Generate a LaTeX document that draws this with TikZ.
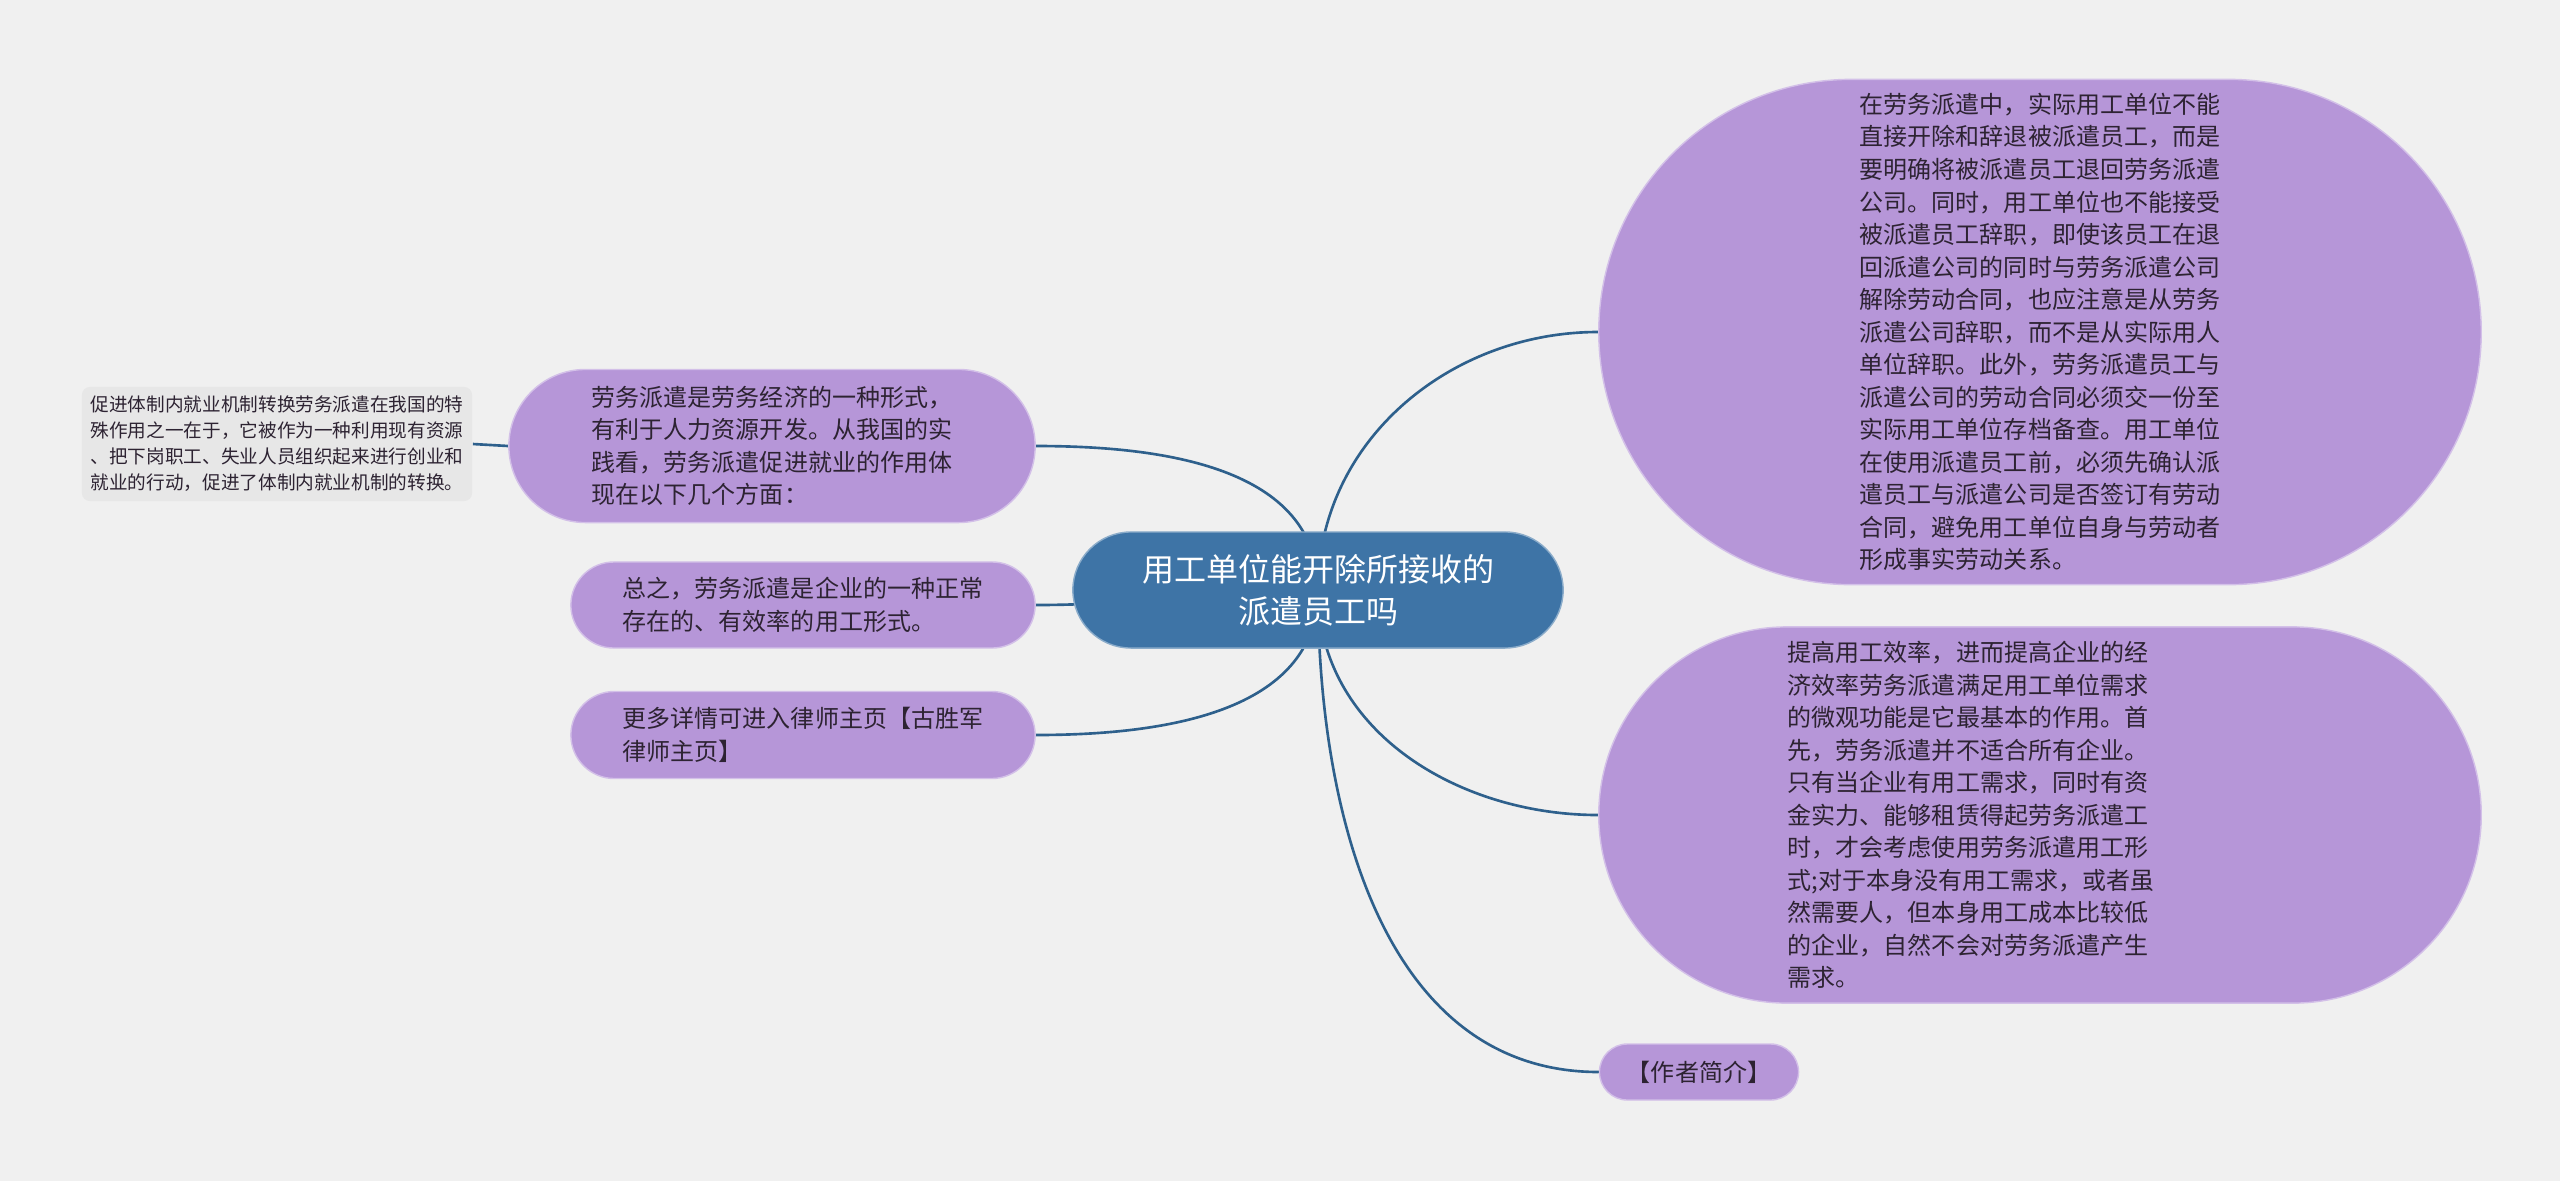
\documentclass[tikz,border=0pt]{standalone}
\usepackage{fontspec}
\setmainfont{Noto Sans CJK SC}
\definecolor{paper}{RGB}{240,240,240}
\definecolor{lilac}{RGB}{182,150,216}
\definecolor{steel}{RGB}{62,116,166}
\definecolor{ink}{RGB}{45,35,50}
\definecolor{wire}{RGB}{46,96,140}
\definecolor{memogray}{RGB}{231,231,231}
\usetikzlibrary{shapes.misc,backgrounds}
\tikzset{
  idea/.style={rounded rectangle, draw=lilac!60!white, thin, fill=lilac, text=ink,
              inner sep=0pt, align=left, font=\fontsize{6.83pt}{9.25pt}\selectfont},
  hub/.style={rounded rectangle, draw=steel!60!white, thin, fill=steel, text=white,
              inner sep=0pt, align=center, font=\fontsize{9.1pt}{12pt}\selectfont,
              minimum width=4.9cm, minimum height=1.16cm},
  memo/.style={rectangle, rounded corners=0.08cm, fill=memogray, text=ink, inner sep=0pt,
              align=left, font=\fontsize{5.3pt}{7.4pt}\selectfont,
              minimum width=3.9cm, minimum height=1.14cm},
  link/.style={wire, line width=0.75pt},
}

\begin{document}
\begin{tikzpicture}[x=0.01cm,y=-0.01cm]
    \node[hub] (root) at (1318,590) {用工单位能开除所接收的\\派遣员工吗};
    \node[idea, minimum width=8.82cm, minimum height=5.05cm] (fire) at (2040,332)
      {在劳务派遣中，实际用工单位不能\\直接开除和辞退被派遣员工，而是\\要明确将被派遣员工退回劳务派遣\\公司。同时，用工单位也不能接受\\被派遣员工辞职，即使该员工在退\\回派遣公司的同时与劳务派遣公司\\解除劳动合同，也应注意是从劳务\\派遣公司辞职，而不是从实际用人\\单位辞职。此外，劳务派遣员工与\\派遣公司的劳动合同必须交一份至\\实际用工单位存档备查。用工单位\\在使用派遣员工前，必须先确认派\\遣员工与派遣公司是否签订有劳动\\合同，避免用工单位自身与劳动者\\形成事实劳动关系。};
    \node[idea, minimum width=8.82cm, minimum height=3.76cm, text width=5.04cm] (need) at (2040,815)
      {提高用工效率，进而提高企业的经\\济效率劳务派遣满足用工单位需求\\的微观功能是它最基本的作用。首\\先，劳务派遣并不适合所有企业。\\只有当企业有用工需求，同时有资\\金实力、能够租赁得起劳务派遣工\\时，才会考虑使用劳务派遣用工形\\式;对于本身没有用工需求，或者虽\\然需要人，但本身用工成本比较低\\的企业，自然不会对劳务派遣产生\\需求。};
    \node[idea, align=center, minimum width=1.99cm, minimum height=0.56cm] (bio) at (1699,1072) {【作者简介】};
    \node[idea, minimum width=5.26cm, minimum height=1.53cm] (form) at (772,446)
      {劳务派遣是劳务经济的一种形式，\\有利于人力资源开发。从我国的实\\践看，劳务派遣促进就业的作用体\\现在以下几个方面：};
    \node[idea, minimum width=4.64cm, minimum height=0.86cm] (sum) at (803,605)
      {总之，劳务派遣是企业的一种正常\\存在的、有效率的用工形式。};
    \node[idea, minimum width=4.64cm, minimum height=0.87cm] (more) at (803,735)
      {更多详情可进入律师主页【古胜军\\律师主页】};
    \node[memo] (job) at (277,444)
      {促进体制内就业机制转换劳务派遣在我国的特\\殊作用之一在于，它被作为一种利用现有资源\\、把下岗职工、失业人员组织起来进行创业和\\就业的行动，促进了体制内就业机制的转换。};
    \begin{scope}[on background layer]
      \fill[paper] (0,0) rectangle (2560,1181);
      \draw[link] (root.center) to[out=90,in=180] (fire.west);
      \draw[link] (root.center) to[out=-90,in=180] (need.west);
      \draw[link] (root.center) to[out=-90,in=180] (bio.west);
      \draw[link] (root.center) to[out=90,in=0] (form.east);
      \draw[link] (root.center) to[out=180,in=0] (sum.east);
      \draw[link] (root.center) to[out=-90,in=0] (more.east);
      \draw[link] (form.west) -- (job.east);
    \end{scope}
  \end{tikzpicture}
\end{document}
